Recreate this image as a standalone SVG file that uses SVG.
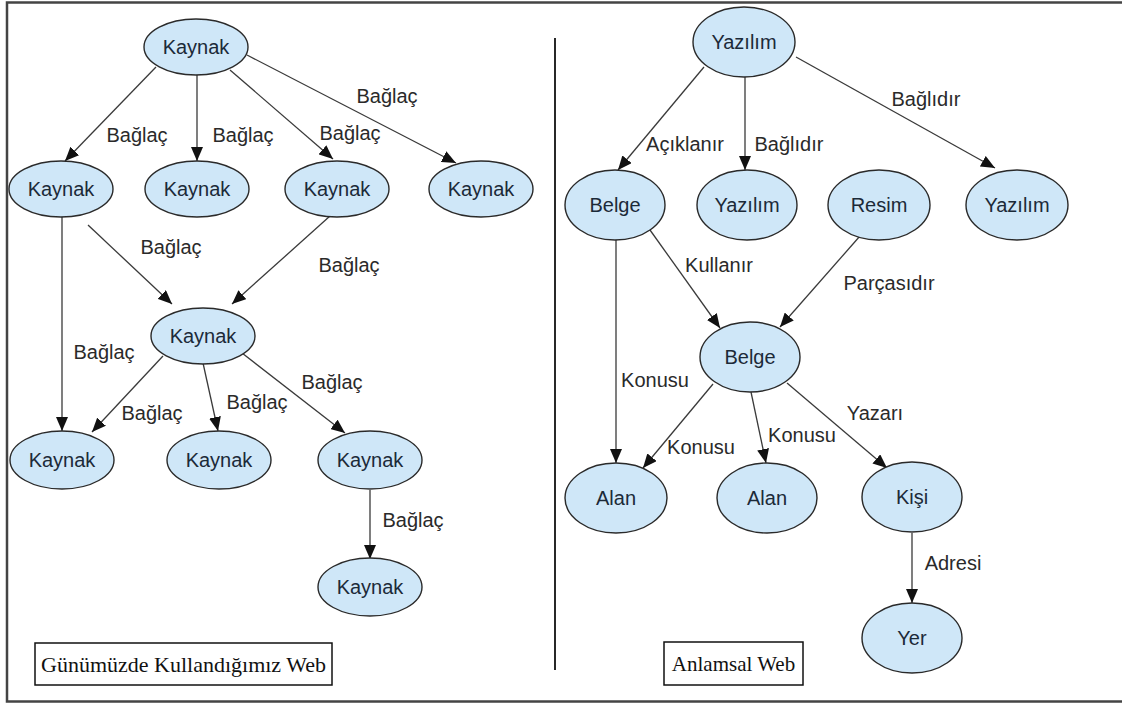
<svg xmlns="http://www.w3.org/2000/svg" width="1122" height="704" viewBox="0 0 1122 704">
<style>
.n{fill:#cfe7f8;stroke:#2a2a2a;stroke-width:1.4}
.nt{font-family:"Liberation Sans",Arial,sans-serif;font-size:20px;fill:#1c2a38;text-anchor:middle}
.lb{font-family:"Liberation Sans",Arial,sans-serif;font-size:20px;fill:#2a2a2a;text-anchor:middle}
.e{stroke:#3a3a3a;stroke-width:1.3;fill:none;marker-end:url(#ah)}
.lg{font-family:"Liberation Serif","Times New Roman",serif;fill:#111;text-anchor:middle}
</style>
<defs>
<marker id="ah" markerUnits="userSpaceOnUse" markerWidth="14" markerHeight="12" refX="14" refY="6" orient="auto">
<path d="M0,0 L14,6 L0,12 z" fill="#111"/>
</marker>
</defs>
<rect x="0" y="0" width="1122" height="704" fill="#ffffff"/>
<rect x="7" y="2.5" width="1125" height="699" fill="none" stroke="#444" stroke-width="2.5"/>
<line x1="555" y1="38" x2="555" y2="670" stroke="#111" stroke-width="1.8"/>

<g id="connectors">
<line class="e" x1="156" y1="67" x2="65" y2="161"/>
<line class="e" x1="197" y1="75" x2="197" y2="161"/>
<line class="e" x1="230" y1="70" x2="333" y2="159"/>
<line class="e" x1="247" y1="55" x2="456" y2="163"/>
<line class="e" x1="62" y1="216" x2="62" y2="431"/>
<line class="e" x1="88" y1="225" x2="172" y2="304"/>
<line class="e" x1="330" y1="216" x2="232" y2="304"/>
<line class="e" x1="163" y1="356" x2="92" y2="432"/>
<line class="e" x1="203" y1="363" x2="218" y2="431"/>
<line class="e" x1="242" y1="353" x2="345" y2="433"/>
<line class="e" x1="370" y1="490" x2="370" y2="559"/>

<line class="e" x1="704" y1="67" x2="618" y2="170"/>
<line class="e" x1="745" y1="77" x2="745" y2="170"/>
<line class="e" x1="796" y1="57" x2="995" y2="168"/>
<line class="e" x1="616" y1="240" x2="616" y2="463"/>
<line class="e" x1="650" y1="230" x2="720" y2="328"/>
<line class="e" x1="860" y1="236" x2="780" y2="327"/>
<line class="e" x1="713" y1="384" x2="643" y2="468"/>
<line class="e" x1="751" y1="392" x2="766" y2="463"/>
<line class="e" x1="787" y1="383" x2="887" y2="468"/>
<line class="e" x1="912" y1="533" x2="912" y2="603"/>

<text class="lb" x="387" y="96" dy="0.35em">Bağlaç</text>
<text class="lb" x="137" y="135" dy="0.35em">Bağlaç</text>
<text class="lb" x="243" y="135" dy="0.35em">Bağlaç</text>
<text class="lb" x="350" y="133" dy="0.35em">Bağlaç</text>
<text class="lb" x="171" y="247" dy="0.35em">Bağlaç</text>
<text class="lb" x="349" y="265" dy="0.35em">Bağlaç</text>
<text class="lb" x="104" y="352" dy="0.35em">Bağlaç</text>
<text class="lb" x="152" y="413" dy="0.35em">Bağlaç</text>
<text class="lb" x="257" y="402" dy="0.35em">Bağlaç</text>
<text class="lb" x="332" y="382" dy="0.35em">Bağlaç</text>
<text class="lb" x="413" y="520" dy="0.35em">Bağlaç</text>

<text class="lb" x="685" y="144" dy="0.35em">Açıklanır</text>
<text class="lb" x="789" y="144" dy="0.35em">Bağlıdır</text>
<text class="lb" x="926" y="99" dy="0.35em">Bağlıdır</text>
<text class="lb" x="719" y="265" dy="0.35em">Kullanır</text>
<text class="lb" x="889" y="283" dy="0.35em">Parçasıdır</text>
<text class="lb" x="655" y="380" dy="0.35em">Konusu</text>
<text class="lb" x="701" y="447" dy="0.35em">Konusu</text>
<text class="lb" x="802" y="435" dy="0.35em">Konusu</text>
<text class="lb" x="875" y="413" dy="0.35em">Yazarı</text>
<text class="lb" x="953" y="563" dy="0.35em">Adresi</text>
</g>

<g id="k-top"><ellipse class="n" cx="196" cy="47" rx="52" ry="28"/><text class="nt" x="196" y="47" dy="0.35em">Kaynak</text></g>
<g id="k-l1"><ellipse class="n" cx="61" cy="189" rx="52" ry="28"/><text class="nt" x="61" y="189" dy="0.35em">Kaynak</text></g>
<g id="k-l2"><ellipse class="n" cx="197" cy="189" rx="52" ry="28"/><text class="nt" x="197" y="189" dy="0.35em">Kaynak</text></g>
<g id="k-l3"><ellipse class="n" cx="337" cy="189" rx="52" ry="28"/><text class="nt" x="337" y="189" dy="0.35em">Kaynak</text></g>
<g id="k-l4"><ellipse class="n" cx="481" cy="189" rx="52" ry="28"/><text class="nt" x="481" y="189" dy="0.35em">Kaynak</text></g>
<g id="k-mid"><ellipse class="n" cx="203" cy="336" rx="52" ry="28"/><text class="nt" x="203" y="336" dy="0.35em">Kaynak</text></g>
<g id="k-b1"><ellipse class="n" cx="62" cy="460" rx="52" ry="29"/><text class="nt" x="62" y="460" dy="0.35em">Kaynak</text></g>
<g id="k-b2"><ellipse class="n" cx="219" cy="460" rx="52" ry="29"/><text class="nt" x="219" y="460" dy="0.35em">Kaynak</text></g>
<g id="k-b3"><ellipse class="n" cx="370" cy="460" rx="52" ry="29"/><text class="nt" x="370" y="460" dy="0.35em">Kaynak</text></g>
<g id="k-b4"><ellipse class="n" cx="370" cy="587" rx="52" ry="29"/><text class="nt" x="370" y="587" dy="0.35em">Kaynak</text></g>

<g id="y-top"><ellipse class="n" cx="744" cy="42" rx="51" ry="35"/><text class="nt" x="744" y="42" dy="0.35em">Yazılım</text></g>
<g id="belge1"><ellipse class="n" cx="615" cy="205" rx="50" ry="35"/><text class="nt" x="615" y="205" dy="0.35em">Belge</text></g>
<g id="y-2"><ellipse class="n" cx="747" cy="205" rx="50" ry="35"/><text class="nt" x="747" y="205" dy="0.35em">Yazılım</text></g>
<g id="resim"><ellipse class="n" cx="879" cy="205" rx="51" ry="35"/><text class="nt" x="879" y="205" dy="0.35em">Resim</text></g>
<g id="y-3"><ellipse class="n" cx="1017" cy="205" rx="51" ry="35"/><text class="nt" x="1017" y="205" dy="0.35em">Yazılım</text></g>
<g id="belge2"><ellipse class="n" cx="750" cy="357" rx="50" ry="35"/><text class="nt" x="750" y="357" dy="0.35em">Belge</text></g>
<g id="alan1"><ellipse class="n" cx="616" cy="498" rx="51" ry="35"/><text class="nt" x="616" y="498" dy="0.35em">Alan</text></g>
<g id="alan2"><ellipse class="n" cx="767" cy="498" rx="50" ry="35"/><text class="nt" x="767" y="498" dy="0.35em">Alan</text></g>
<g id="kisi"><ellipse class="n" cx="912" cy="497" rx="50" ry="35"/><text class="nt" x="912" y="497" dy="0.35em">Kişi</text></g>
<g id="yer"><ellipse class="n" cx="912" cy="638" rx="50" ry="35"/><text class="nt" x="912" y="638" dy="0.35em">Yer</text></g>

<g id="legend-left"><rect x="35" y="643" width="297" height="42" fill="#fff" stroke="#111" stroke-width="1.5"/><text class="lg" x="183.5" y="664" dy="0.35em" font-size="22">Günümüzde Kullandığımız Web</text></g>
<g id="legend-right"><rect x="664" y="642" width="139" height="43" fill="#fff" stroke="#111" stroke-width="1.5"/><text class="lg" x="733.5" y="664" dy="0.35em" font-size="21">Anlamsal Web</text></g>
</svg>
